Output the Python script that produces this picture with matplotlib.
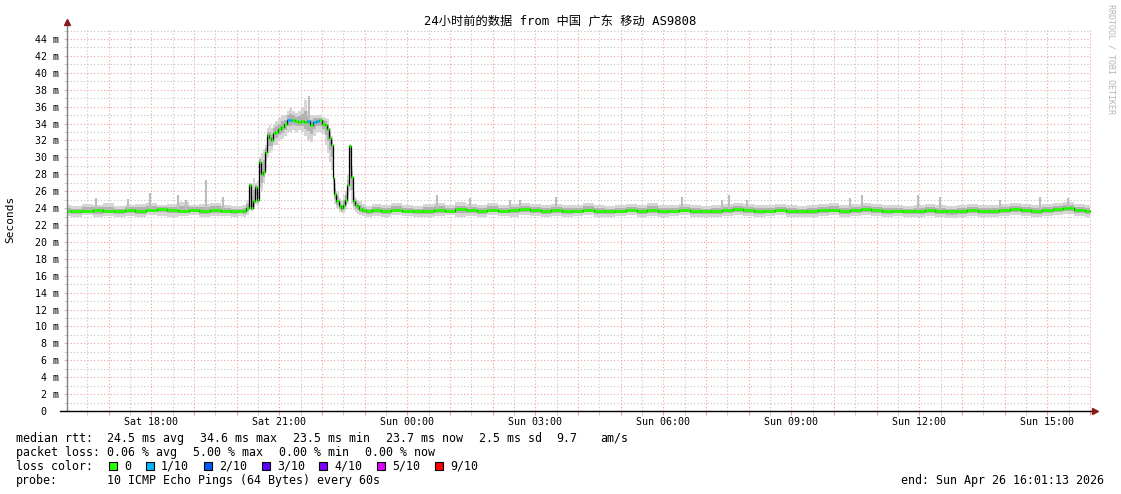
import numpy as np
import matplotlib
matplotlib.use("Agg")
import matplotlib.pyplot as plt
from matplotlib.patches import Rectangle

plt.rcParams['font.family'] = ['DejaVu Sans Mono', 'Noto Sans CJK SC']

### data (time in hours counted from Sat 00:00, rtt in ms)
t_start = 16.0203
t_end = 40.0203

flat1_t = np.arange(16.0, 19.76, 0.25)
flat1_med = [23.7, 23.6, 23.7, 23.8, 23.7, 23.6, 23.8, 23.7, 23.8, 23.9, 23.8, 23.7, 23.8, 23.7, 23.8, 23.7]
flat1_lo = [23.1, 23.0, 23.2, 22.9, 23.1, 23.0, 23.1, 23.0, 23.2, 23.1, 23.0, 23.1, 23.2, 23.0, 23.1, 23.1]
flat1_hi = [24.4, 24.3, 24.5, 24.4, 24.6, 24.3, 24.4, 24.5, 24.6, 24.4, 24.5, 24.7, 24.4, 24.5, 24.6, 24.4]

bump_t = [19.96, 20.08, 20.19, 20.26, 20.31, 20.36, 20.40, 20.45, 20.50, 20.54,
          20.59, 20.64, 20.68, 20.73, 20.78, 20.83, 20.87, 20.92, 20.99, 21.06,
          21.13, 21.20, 21.27, 21.34, 21.41, 21.48, 21.55, 21.62, 21.69, 21.76,
          21.83, 21.90, 21.97, 22.04, 22.09, 22.14, 22.18, 22.23, 22.26, 22.30,
          22.35, 22.42, 22.47, 22.51, 22.56, 22.61, 22.65, 22.70, 22.75, 22.79,
          22.84, 22.91, 22.98, 23.08]
bump_med = [23.6, 23.7, 23.6, 24.0, 26.7, 24.0, 24.8, 26.5, 24.9, 29.5,
            28.0, 28.3, 30.6, 32.6, 32.3, 32.0, 32.9, 33.0, 33.3, 33.6,
            33.9, 34.4, 34.4, 34.4, 34.3, 34.2, 34.3, 34.2, 34.3, 33.8,
            34.2, 34.3, 34.4, 34.0, 33.8, 33.4, 32.3, 31.5, 27.5, 25.7,
            24.8, 24.2, 24.0, 24.4, 25.0, 26.7, 31.3, 27.7, 24.8, 24.4,
            24.2, 23.9, 23.8, 23.6]
bump_lo = [23.0, 23.1, 23.0, 23.2, 23.8, 23.6, 24.0, 24.5, 24.3, 26.5,
           26.0, 27.0, 28.5, 30.0, 30.5, 30.8, 31.5, 31.5, 32.0, 32.2,
           32.5, 33.0, 33.0, 33.2, 33.0, 33.2, 33.0, 32.5, 32.0, 31.8,
           32.5, 33.0, 33.0, 32.8, 31.5, 30.5, 29.5, 28.5, 26.0, 24.5,
           24.0, 23.5, 23.4, 23.4, 23.8, 24.5, 26.0, 24.5, 23.8, 23.5,
           23.3, 23.2, 23.1, 23.0]
bump_hi = [24.3, 24.2, 24.4, 25.0, 27.0, 26.8, 27.5, 27.0, 27.2, 30.0,
           30.5, 31.0, 31.5, 33.5, 33.8, 33.5, 34.0, 34.3, 34.6, 35.0,
           35.0, 35.5, 35.8, 35.5, 35.2, 35.5, 36.0, 36.8, 35.5, 35.0,
           35.0, 35.0, 35.0, 34.8, 34.7, 34.5, 33.5, 32.5, 30.0, 27.0,
           26.0, 25.2, 24.8, 25.5, 26.0, 28.0, 31.6, 29.0, 26.0, 25.2,
           25.0, 24.8, 24.5, 24.3]
bump_loss = [0, 0, 0, 0, 0, 0, 0, 0, 0, 0,
             0, 0, 0, 0, 0, 0, 0, 0, 0, 0,
             0, 1, 1, 0, 0, 0, 0, 0, 1, 0,
             1, 1, 0, 0, 0, 0, 0, 0, 0, 0,
             0, 0, 0, 0, 0, 0, 0, 0, 0, 0,
             0, 0, 0, 0]

flat2_t = np.arange(23.25, 40.01, 0.25)
flat2_med = [23.8, 23.7, 23.8, 23.7, 23.6, 23.7, 23.8, 23.7, 23.9, 23.8, 23.7, 23.8, 23.7, 23.8, 23.9, 23.8,
             23.7, 23.8, 23.7, 23.7, 23.8, 23.7, 23.6, 23.7, 23.8, 23.7, 23.8, 23.7, 23.7, 23.8, 23.7, 23.6,
             23.7, 23.8, 23.9, 23.8, 23.7, 23.7, 23.8, 23.7, 23.6, 23.7, 23.8, 23.8, 23.7, 23.8, 23.9, 23.8,
             23.7, 23.7, 23.6, 23.7, 23.8, 23.7, 23.6, 23.7, 23.8, 23.7, 23.7, 23.8, 23.9, 23.8, 23.7, 23.8,
             23.9, 24.0, 23.8, 23.7]
flat2_lo = [23.1, 23.0, 23.2, 23.1, 22.9, 23.0, 23.1, 23.2, 23.0, 23.1, 23.0, 23.2, 23.1, 23.0, 23.2, 23.1,
            23.0, 23.1, 23.0, 23.1, 23.2, 23.0, 22.9, 23.1, 23.2, 23.0, 23.1, 23.0, 23.1, 23.2, 23.0, 22.9,
            23.0, 23.1, 23.2, 23.1, 23.0, 23.1, 23.2, 23.0, 22.9, 23.0, 23.1, 23.2, 23.0, 23.1, 23.2, 23.1,
            23.0, 23.1, 22.9, 23.0, 23.1, 23.0, 22.8, 23.0, 23.1, 23.0, 22.9, 23.1, 23.2, 23.1, 23.0, 23.1,
            23.2, 23.3, 23.1, 23.0]
flat2_hi = [24.5, 24.4, 24.6, 24.4, 24.3, 24.5, 24.6, 24.4, 24.7, 24.5, 24.4, 24.6, 24.4, 24.5, 24.6, 24.5,
            24.4, 24.5, 24.4, 24.4, 24.6, 24.4, 24.3, 24.4, 24.5, 24.4, 24.6, 24.4, 24.4, 24.5, 24.4, 24.3,
            24.4, 24.5, 24.6, 24.5, 24.4, 24.4, 24.5, 24.4, 24.3, 24.4, 24.5, 24.6, 24.4, 24.5, 24.6, 24.5,
            24.4, 24.4, 24.3, 24.4, 24.5, 24.4, 24.3, 24.4, 24.5, 24.4, 24.4, 24.5, 24.6, 24.5, 24.4, 24.5,
            24.6, 24.7, 24.5, 24.4]

# single gray spikes of the smoke
spike_t = [16.70, 17.45, 17.97, 18.62, 18.81, 19.28, 19.68, 21.69, 24.69, 25.47, 26.40, 26.64,
           27.48, 30.43, 31.37, 31.54, 31.96, 34.37, 34.65, 35.97, 36.48, 37.89, 38.82, 39.48]
spike_top = [25.2, 25.1, 25.8, 25.6, 25.0, 27.3, 25.3, 37.2, 25.5, 25.2, 24.9, 25.0,
             25.3, 25.3, 24.9, 25.6, 24.9, 25.2, 25.6, 25.5, 25.3, 25.0, 25.3, 25.2]
spike_base = [23.8, 23.8, 23.8, 23.8, 23.8, 23.8, 23.8, 34.3, 23.8, 23.8, 23.8, 23.8,
              23.8, 23.8, 23.8, 23.8, 23.8, 23.8, 23.8, 23.8, 23.8, 23.8, 23.8, 23.8]

tick_hours = [18, 21, 24, 27, 30, 33, 36, 39]
tick_labels = ["Sat 18:00", "Sat 21:00", "Sun 00:00", "Sun 03:00",
               "Sun 06:00", "Sun 09:00", "Sun 12:00", "Sun 15:00"]

title = "24小时前的数据 from 中国 广东 移动 AS9808"
rtt_parts = ["median rtt:", "24.5 ms avg", "34.6 ms max", "23.5 ms min", "23.7 ms now",
             "2.5 ms sd", "9.7", "am/s"]
loss_parts = ["packet loss:", "0.06 % avg", "5.00 % max", "0.00 % min", "0.00 % now"]
probe_parts = ["probe:", "10 ICMP Echo Pings (64 Bytes) every 60s"]
line_end = "end: Sun Apr 26 16:01:13 2026"
loss_names = ["0", "1/10", "2/10", "3/10", "4/10", "5/10", "9/10"]
loss_colors = ["#26ff00", "#00b8ff", "#0059ff", "#5e00ff", "#7e00ff", "#dd00ff", "#ff0000"]

W, H = 1121, 494
fig = plt.figure(figsize=(W / 100, H / 100), dpi=100)
ax = fig.add_axes([67 / W, 1 - 411 / H, 1024 / W, 382 / H])

### helper: pixel position -> figure fraction
def px(x, y):
    return x / W, 1 - y / H

t = np.concatenate([flat1_t, bump_t, flat2_t])
med = np.concatenate([flat1_med, bump_med, flat2_med])
lo = np.concatenate([flat1_lo, bump_lo, flat2_lo])
hi = np.concatenate([flat1_hi, bump_hi, flat2_hi])
loss = np.concatenate([np.zeros(len(flat1_t), int), bump_loss, np.zeros(len(flat2_t), int)])

# smoke
ax.fill_between(t, lo, hi, step='mid', color='#d6d6d6', lw=0, zorder=2)
ax.fill_between(t, (lo + med) / 2, (hi + med) / 2, step='mid', color='#b2b2b2', lw=0, zorder=2)
ax.vlines(spike_t, spike_base, spike_top, color='#bdbdbd', lw=1.5, zorder=2)

# median
ax.plot(t, med, drawstyle='steps-mid', color='black', lw=0.9, zorder=3)
edges = np.concatenate([[t[0]], (t[1:] + t[:-1]) / 2, [t[-1]]])
cols = [loss_colors[k] for k in loss]
ax.hlines(med, edges[:-1], edges[1:], colors=cols, lw=2.0, zorder=4)

ax.set_xlim(t_start, t_end)
ax.set_ylim(0, 45.18)

hours = np.arange(17, 41)
ax.set_xticks(hours)
ax.set_xticklabels([tick_labels[tick_hours.index(h)] if h in tick_hours else "" for h in hours])
ax.set_xticks(np.arange(16.5, 40.1, 1.0), minor=True)
yt = np.arange(0, 45, 2)
ax.set_yticks(yt)
ax.set_yticklabels(["0  " if v == 0 else "%d m" % v for v in yt])
ax.set_yticks(np.arange(1, 46, 2), minor=True)

ax.grid(which='major', color='#f2a0a0', linestyle=(0, (1, 2)), lw=0.8, zorder=1)
ax.grid(which='minor', color='#c4c4c4', linestyle=(0, (1, 2)), lw=0.8, zorder=1)
ax.set_axisbelow(True)
ax.tick_params(axis='x', which='major', length=3, color='#f2a0a0', labelsize=7.2, pad=1.5)
ax.tick_params(axis='x', which='minor', length=3, color='#c4c4c4')
ax.tick_params(axis='y', which='both', length=2, color='#c4c4c4', labelsize=7.2, pad=4)

for s in ['top', 'right', 'left', 'bottom']:
    ax.spines[s].set_visible(False)
# axes with arrows
ax.plot([0, 0], [0, 389 / 382], color='#808080', lw=1, transform=ax.transAxes, clip_on=False, zorder=5)
ax.plot([-7 / 1024, 1028 / 1024], [0, 0], color='black', lw=1, transform=ax.transAxes, clip_on=False, zorder=5)
ax.plot([0], [389 / 382], marker='^', ms=4, color='#8b1a1a', transform=ax.transAxes, clip_on=False, zorder=6)
ax.plot([1028 / 1024], [0], marker='>', ms=4, color='#8b1a1a', transform=ax.transAxes, clip_on=False, zorder=6)

fig.text(*px(560, 22), title, ha='center', va='center', fontsize=8.8)
fig.text(*px(10, 219), "Seconds", rotation=90, ha='center', va='center', fontsize=8)
fig.text(*px(1111, 4), "RRDTOOL / TOBI OETIKER", rotation=270, ha='center', va='top',
         fontsize=6, color='#b4b4b4')

# legend lines, each GPRINT piece placed on its own
fs = 8.35
for x, s in zip([16, 107, 200, 293, 386.5, 479, 556.5, 600], rtt_parts):
    fig.text(*px(x, 438), s, ha='left', va='center', fontsize=fs)
for x, s in zip([16, 107, 193, 279, 365], loss_parts):
    fig.text(*px(x, 452), s, ha='left', va='center', fontsize=fs)
fig.text(*px(16, 466), "loss color:", ha='left', va='center', fontsize=fs)
box_x = [109, 146, 204, 262, 319, 377, 435]
for bx, name, c in zip(box_x, loss_names, loss_colors):
    x0, y0 = px(bx, 470)
    fig.patches.append(Rectangle((x0, y0), 8 / W, 8 / H, transform=fig.transFigure,
                                 facecolor=c, edgecolor='black', lw=0.8))
    fig.text(*px(bx + 15, 466), name, ha='left', va='center', fontsize=fs)
for x, s in zip([16, 107], probe_parts):
    fig.text(*px(x, 480), s, ha='left', va='center', fontsize=fs)
fig.text(*px(1104, 480), line_end, ha='right', va='center', fontsize=fs)

fig.savefig("out.png", dpi=100, facecolor='white')
